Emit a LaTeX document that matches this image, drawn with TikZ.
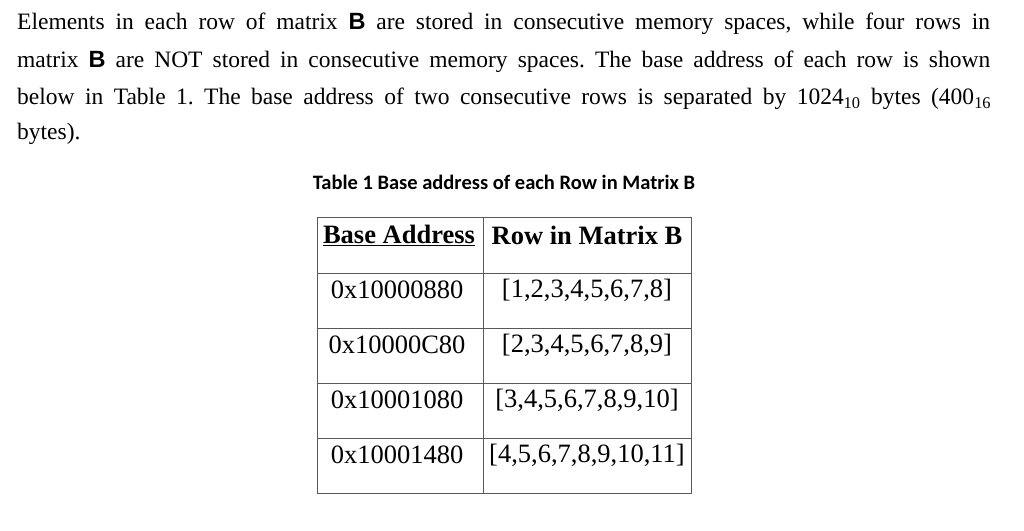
\documentclass[tikz,border=0pt]{standalone}
\usepackage{fontspec}
\setmainfont{Liberation Serif}
\newfontfamily\capfont{Carlito}
\newfontfamily\arialf{Liberation Sans}
\frenchspacing
\begin{document}
\begin{tikzpicture}[x=1pt,y=-1pt,
  para/.style={anchor=west,inner sep=0pt,font=\fontsize{23.5}{26}\selectfont},
  cell/.style={inner sep=0pt,font=\fontsize{26.5}{30}\selectfont}]
\useasboundingbox[fill=white] (0,0) rectangle (1024,530);
\newcommand\mB{{\arialf\bfseries B}}
\node[para] (l1) at (17,24) {\makebox[973pt][s]{Elements in each row of matrix \mB{} are stored in consecutive memory spaces, while four rows in}};
\node[para] (l2) at (17,62) {\makebox[973pt][s]{matrix \mB{} are NOT stored in consecutive memory spaces. The base address of each row is shown}};
\node[para] (l3) at (17,99) {\makebox[974pt][s]{below in Table 1. The base address of two consecutive rows is separated by 1024\textsubscript{10} bytes (400\textsubscript{16}}};
\node[para] (l4) at (17,134) {bytes).};
\node[inner sep=0pt,font=\capfont\bfseries\fontsize{20.5}{24}\selectfont] (cap) at (504,182) {Table 1 Base address of each Row in Matrix B};
\draw[line width=1pt,gray!70!black] (317,217) rectangle (691,493);
\draw[line width=1pt,gray!70!black] (483,217) -- (483,493);
\foreach \y in {273,328,383,438} \draw[line width=1pt,gray!70!black] (317,\y) -- (691,\y);
\node[cell] (h1) at (399,235) {\textbf{\underline{Base Address}}};
\node[cell] (h2) at (587,235) {\textbf{Row in Matrix B}};
\node[cell] (a1) at (397,290) {0x10000880};
\node[cell] (b1) at (587,290) {[1,2,3,4,5,6,7,8]};
\node[cell] (a2) at (397,345) {0x10000C80};
\node[cell] (b2) at (587,345) {[2,3,4,5,6,7,8,9]};
\node[cell] (a3) at (397,400) {0x10001080};
\node[cell] (b3) at (587,400) {[3,4,5,6,7,8,9,10]};
\node[cell] (a4) at (397,455) {0x10001480};
\node[cell] (b4) at (587,455) {[4,5,6,7,8,9,10,11]};
\end{tikzpicture}
\end{document}
